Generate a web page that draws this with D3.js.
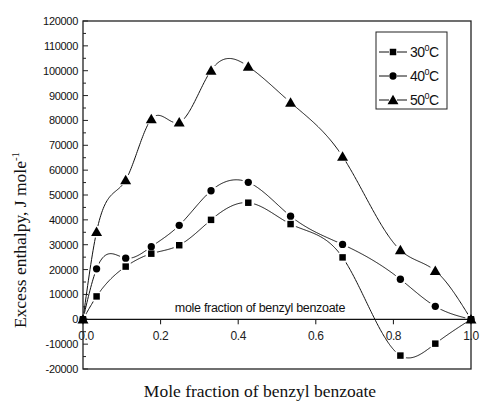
<!DOCTYPE html>
<html>
<head>
<meta charset="utf-8">
<script src="https://cdn.jsdelivr.net/npm/d3@7/dist/d3.min.js"></script>
<style>
  html, body { margin: 0; padding: 0; background: #fff; }
  svg { display: block; }
</style>
</head>
<body>
<svg id="chart" width="480" height="406"></svg>
<script>
// Mole fraction of benzyl benzoate (x) and excess enthalpy (J/mol) at three temperatures
const moleFraction = [0, 0.035, 0.11, 0.176, 0.248, 0.33, 0.426, 0.535, 0.669, 0.818, 0.908, 1.0];
const hE30 = [0, 9200, 21200, 26400, 29800, 40000, 46900, 38300, 24900, -14600, -9800, 0];
const hE40 = [0, 20300, 24600, 29200, 37800, 51700, 55100, 41500, 30100, 16100, 5200, 0];
const hE50 = [0, 35200, 56000, 80500, 79200, 100100, 101700, 87200, 65500, 27800, 19500, 0];

const seriesNames = ["30", "40", "50"];
const seriesSymbols = [d3.symbolSquare, d3.symbolCircle, d3.symbolTriangle];
const seriesValues = [hE30, hE40, hE50];

const yTicks = d3.range(-20000, 120001, 10000);
const xTicks = [0, 0.2, 0.4, 0.6, 0.8, 1.0];

const svg = d3.select("#chart");
const plotL = 83, plotR = 471, plotT = 21, plotB = 369;

const x = d3.scaleLinear().domain([0, 1]).range([plotL, plotR]);
const y = d3.scaleLinear().domain([-20000, 120000]).range([plotB, plotT]);

// Natural cubic spline through (xs, ys), evaluated as a function of x
function naturalSpline(xs, ys) {
  const n = xs.length;
  const h = d3.range(n - 1).map(i => xs[i + 1] - xs[i]);
  const a = new Array(n).fill(0), b = new Array(n).fill(1), c = new Array(n).fill(0), r = new Array(n).fill(0);
  for (let i = 1; i < n - 1; i++) {
    a[i] = h[i - 1];
    b[i] = 2 * (h[i - 1] + h[i]);
    c[i] = h[i];
    r[i] = 6 * ((ys[i + 1] - ys[i]) / h[i] - (ys[i] - ys[i - 1]) / h[i - 1]);
  }
  // Thomas algorithm
  const cp = new Array(n).fill(0), rp = new Array(n).fill(0);
  cp[0] = c[0] / b[0]; rp[0] = r[0] / b[0];
  for (let i = 1; i < n; i++) {
    const m = b[i] - a[i] * cp[i - 1];
    cp[i] = c[i] / m;
    rp[i] = (r[i] - a[i] * rp[i - 1]) / m;
  }
  const M = new Array(n).fill(0);
  M[n - 1] = rp[n - 1];
  for (let i = n - 2; i >= 0; i--) M[i] = rp[i] - cp[i] * M[i + 1];
  return function (t) {
    let i = Math.min(n - 2, Math.max(0, d3.bisectRight(xs, t) - 1));
    const hi = h[i], A = (xs[i + 1] - t) / hi, B = (t - xs[i]) / hi;
    return A * ys[i] + B * ys[i + 1] + ((A * A * A - A) * M[i] + (B * B * B - B) * M[i + 1]) * hi * hi / 6;
  };
}

// Frame
svg.append("rect")
  .attr("x", plotL).attr("y", plotT)
  .attr("width", plotR - plotL).attr("height", plotB - plotT)
  .attr("fill", "none").attr("stroke", "#222").attr("stroke-width", 1.3);

// Left axis: ticks pointing inward, minor ticks between
const yAxis = svg.append("g").attr("transform", `translate(${plotL},0)`);
yAxis.selectAll("line.major").data(yTicks).join("line")
  .attr("class", "major")
  .attr("x1", 0).attr("x2", 5)
  .attr("y1", d => y(d)).attr("y2", d => y(d))
  .attr("stroke", "#222").attr("stroke-width", 1);
yAxis.selectAll("line.minor").data(yTicks.slice(0, -1).map(d => d + 5000)).join("line")
  .attr("class", "minor")
  .attr("x1", 0).attr("x2", 3)
  .attr("y1", d => y(d)).attr("y2", d => y(d))
  .attr("stroke", "#222").attr("stroke-width", 1);
yAxis.selectAll("text").data(yTicks).join("text")
  .attr("x", -5).attr("y", d => y(d)).attr("dy", "0.36em")
  .attr("text-anchor", "end")
  .attr("font-family", "Liberation Sans, Arial, sans-serif")
  .attr("font-size", 11)
  .attr("letter-spacing", -0.3)
  .attr("fill", "#111")
  .text(d => d);

// Zero line acting as x axis, with downward ticks
const xAxis = svg.append("g").attr("transform", `translate(0,${y(0)})`);
xAxis.append("line")
  .attr("x1", plotL).attr("x2", plotR).attr("y1", 0).attr("y2", 0)
  .attr("stroke", "#111").attr("stroke-width", 1.2);
xAxis.selectAll("line.tick").data(xTicks).join("line")
  .attr("class", "tick")
  .attr("x1", d => x(d)).attr("x2", d => x(d))
  .attr("y1", 0).attr("y2", 5)
  .attr("stroke", "#111").attr("stroke-width", 1);
xAxis.selectAll("text").data(xTicks).join("text")
  .attr("x", d => x(d) + (d === 0 ? 3 : 0)).attr("y", 21)
  .attr("text-anchor", "middle")
  .attr("font-family", "Liberation Sans, Arial, sans-serif")
  .attr("font-size", 12)
  .attr("letter-spacing", -0.4)
  .attr("fill", "#222")
  .text(d => d3.format(".1f")(d));

// Label inside the plot
svg.append("text")
  .attr("x", 260).attr("y", 312)
  .attr("text-anchor", "middle")
  .attr("font-family", "Liberation Sans, Arial, sans-serif")
  .attr("font-size", 12.5)
  .attr("letter-spacing", -0.3)
  .attr("fill", "#111")
  .text("mole fraction of benzyl benzoate");

// Axis titles
svg.append("text")
  .attr("x", 260).attr("y", 397)
  .attr("text-anchor", "middle")
  .attr("font-family", "Liberation Serif, Times New Roman, serif")
  .attr("font-size", 17.5)
  .attr("fill", "#111")
  .text("Mole fraction of benzyl benzoate");

const yTitle = svg.append("text")
  .attr("transform", "translate(26,240) rotate(-90)")
  .attr("text-anchor", "middle")
  .attr("font-family", "Liberation Serif, Times New Roman, serif")
  .attr("font-size", 17.5)
  .attr("fill", "#111");
yTitle.append("tspan").text("Excess enthalpy, J mole");
yTitle.append("tspan").attr("font-size", 11).attr("dy", -7).text("-1");

// Curves, with a small gap left around each own marker
const defs = svg.append("defs");
const sampleX = d3.range(0, 1.0001, 0.002);
const line = d3.line().x(d => x(d[0])).y(d => y(d[1]));

seriesValues.forEach((vals, k) => {
  const maskId = "gap" + k;
  const mask = defs.append("mask").attr("id", maskId).attr("maskUnits", "userSpaceOnUse")
    .attr("x", 0).attr("y", 0).attr("width", 480).attr("height", 406);
  mask.append("rect").attr("x", 0).attr("y", 0).attr("width", 480).attr("height", 406).attr("fill", "#fff");
  mask.selectAll("circle").data(moleFraction).join("circle")
    .attr("cx", d => x(d)).attr("cy", (d, i) => y(vals[i]))
    .attr("r", 6).attr("fill", "#000");

  const f = naturalSpline(moleFraction, vals);
  svg.append("path")
    .datum(sampleX.map(t => [t, f(t)]))
    .attr("d", line)
    .attr("fill", "none").attr("stroke", "#111").attr("stroke-width", 1)
    .attr("mask", `url(#${maskId})`);
});

const symbolSizes = [42, 42, 52];
seriesValues.forEach((vals, k) => {
  svg.append("g").selectAll("path").data(moleFraction).join("path")
    .attr("transform", (d, i) => `translate(${x(d)},${y(vals[i]) + (k === 2 ? 1 : 0)})`)
    .attr("d", d3.symbol().type(seriesSymbols[k]).size(symbolSizes[k]))
    .attr("fill", "#000");
});

// Legend
const lg = svg.append("g");
lg.append("rect")
  .attr("x", 376).attr("y", 32).attr("width", 71).attr("height", 77)
  .attr("fill", "#fff").attr("stroke", "#222").attr("stroke-width", 1);
seriesNames.forEach((name, k) => {
  const ly = 52 + k * 24;
  lg.append("line").attr("x1", 379).attr("x2", 389).attr("y1", ly).attr("y2", ly)
    .attr("stroke", "#111").attr("stroke-width", 1);
  lg.append("line").attr("x1", 397).attr("x2", 407).attr("y1", ly).attr("y2", ly)
    .attr("stroke", "#111").attr("stroke-width", 1);
  lg.append("path")
    .attr("transform", `translate(393,${ly + (k === 2 ? 1 : 0)})`)
    .attr("d", d3.symbol().type(seriesSymbols[k]).size(symbolSizes[k]))
    .attr("fill", "#000");
  const t = lg.append("text")
    .attr("x", 410).attr("y", ly + 5)
    .attr("font-family", "Liberation Sans, Arial, sans-serif")
    .attr("font-size", 14)
    .attr("letter-spacing", -0.5)
    .attr("fill", "#111");
  t.append("tspan").text(name);
  t.append("tspan").attr("font-size", 9).attr("dy", -6).text("0");
  t.append("tspan").attr("dy", 6).text("C");
});
</script>
</body>
</html>
